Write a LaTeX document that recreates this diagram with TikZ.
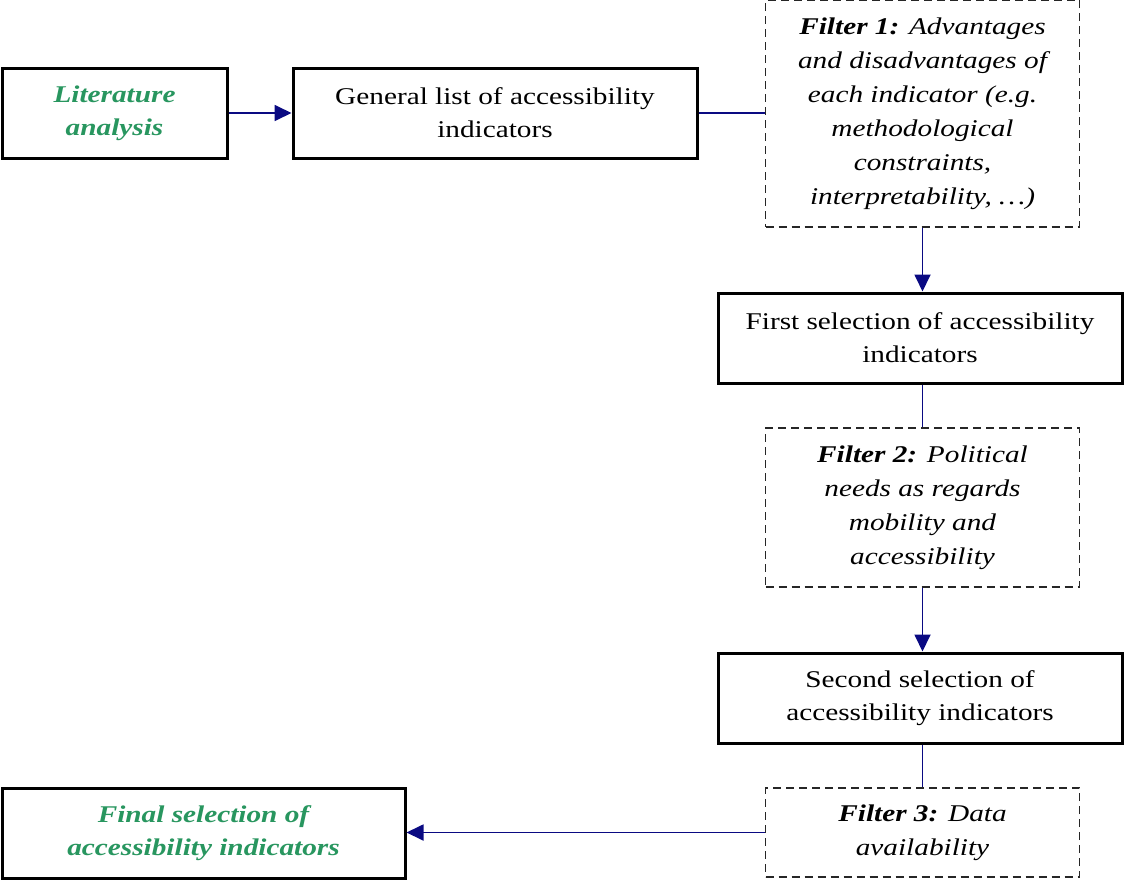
\documentclass[tikz,border=0pt]{standalone}
\usepackage{fontspec}
\setmainfont[FakeStretch=1.22]{Liberation Serif}
\usetikzlibrary{arrows.meta}
\definecolor{leafgreen}{RGB}{40,150,95}
\definecolor{flownavy}{RGB}{10,10,130}
\tikzset{
  solidbox/.style={draw=black, line width=3pt, fill=white, align=center,
    inner sep=0pt, font=\fontsize{24}{33}\selectfont},
  filterbox/.style={draw=black!85, line width=1.3pt, dash pattern=on 8pt off 5pt,
    fill=white, align=center, inner sep=0pt,
    font=\fontsize{24}{34}\selectfont\itshape},
  greentext/.style={text=leafgreen, font=\fontsize{24}{33}\selectfont\bfseries\itshape},
  link/.style={draw=flownavy, line width=1.8pt},
  flow/.style={link, -{Triangle[length=17pt,width=16pt]}}
}
\begin{document}
\begin{tikzpicture}[x=1pt,y=-1pt]
\useasboundingbox (0,0) rectangle (1125,881);
% solid boxes
\node[solidbox, greentext, minimum width=225pt, minimum height=90pt] (lit) at (114.5,113) {Literature\\analysis};
\node[solidbox, minimum width=404pt, minimum height=90pt] (gen) at (495,113) {General list of accessibility\\indicators};
\node[solidbox, minimum width=404pt, minimum height=90pt] (first) at (920,338) {First selection of accessibility\\indicators};
\node[solidbox, minimum width=404pt, minimum height=90pt] (second) at (920,698) {Second selection of\\accessibility indicators};
\node[solidbox, greentext, minimum width=403pt, minimum height=90pt] (final) at (203.5,833) {Final selection of\\accessibility indicators};
% dashed filter boxes
\node[filterbox, minimum width=314pt, minimum height=227pt] (f1) at (922.5,113.5)
  {\textbf{Filter 1:} Advantages\\and disadvantages of\\each indicator (e.g.\\methodological\\constraints,\\interpretability, \ldots)};
\node[filterbox, minimum width=314pt, minimum height=159pt] (f2) at (922.5,507.5)
  {\textbf{Filter 2:} Political\\needs as regards\\mobility and\\accessibility};
\node[filterbox, minimum width=314pt, minimum height=89pt] (f3) at (922.5,832.5)
  {\textbf{Filter 3:} Data\\availability};
% connectors, kept straight by projecting onto the target side
\draw[flow] (lit.east) -- (gen.west);
\draw[link] (gen.east) -- (gen.east -| f1.west);
\draw[flow] (f1.south) -- (f1.south |- first.north);
\draw[link] (f1.south |- first.south) -- (f2.north);
\draw[flow] (f2.south) -- (f2.south |- second.north);
\draw[link] (f3.north |- second.south) -- (f3.north);
\draw[flow] (f3.west) -- (f3.west -| final.east);
\end{tikzpicture}
\end{document}
